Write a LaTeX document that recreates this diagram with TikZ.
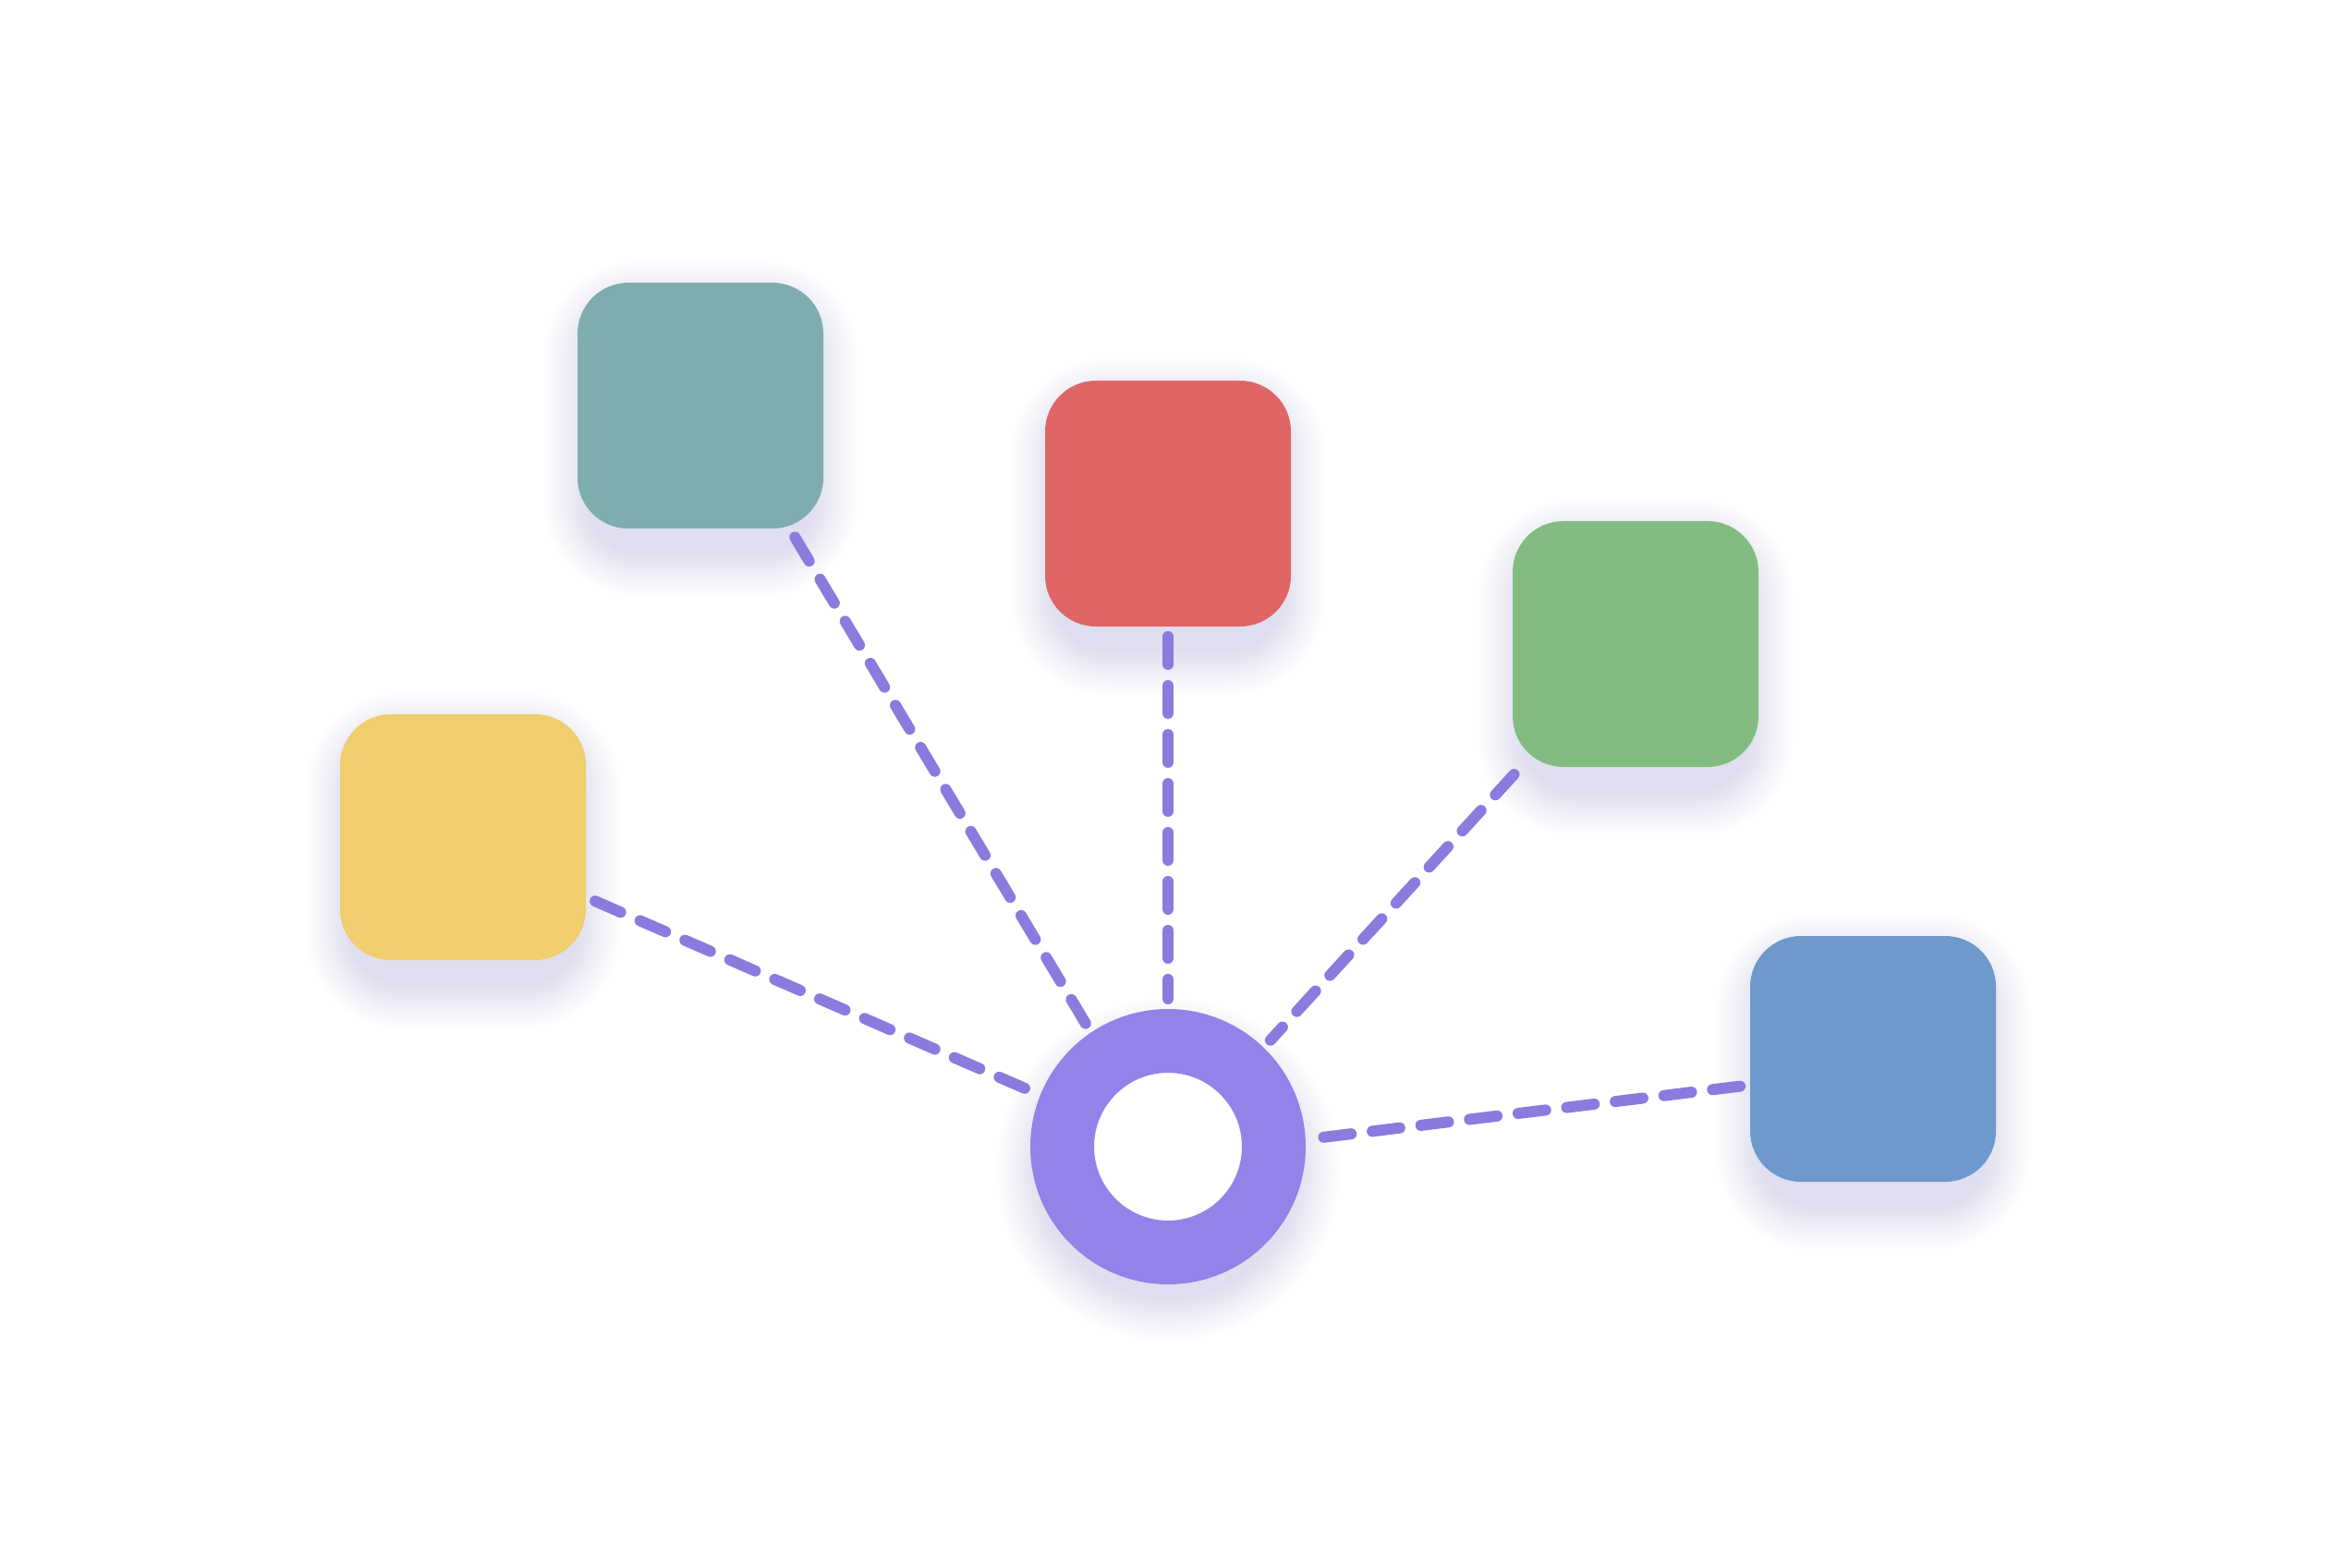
\documentclass[tikz,border=0pt]{standalone}
\usetikzlibrary{calc,backgrounds}

\definecolor{tealbox}{HTML}{7FADAD}
\definecolor{redbox}{HTML}{E06666}
\definecolor{greenbox}{HTML}{83BC81}
\definecolor{yellowbox}{HTML}{F0CD6D}
\definecolor{bluebox}{HTML}{6D99CD}
\definecolor{hubring}{HTML}{9283E8}
\definecolor{linkdash}{HTML}{8A7BDF}
\definecolor{glow}{HTML}{9A8AE0}

\tikzset{
  box/.style={rectangle, rounded corners=0.55cm, minimum size=2.66cm, inner sep=0pt, outer sep=0pt},
  hub/.style={circle, draw=hubring, line width=0.69cm, fill=white, minimum size=2.29cm, inner sep=0pt},
  link/.style={draw=linkdash, line width=0.12cm, line cap=round, dash pattern=on 0.30cm off 0.23cm,
    shorten <=0.11cm, shorten >=0.11cm}
}

% soft lavender shadow under a box
\newcommand{\boxglow}[1]{%
  \foreach \g [evaluate=\g as \rc using 0.55+\g] in {0.03,0.06,...,0.5}{%
    \fill[glow, opacity=0.016, rounded corners=\rc cm]
      ($(#1.south west)+(-\g+0.12,-\g-0.25)$) rectangle ($(#1.north east)+(\g-0.12,\g-0.25)$);
  }}

\begin{document}
\begin{tikzpicture}
        \useasboundingbox (0,0) rectangle (25.28,16.96);

        \node[box, fill=tealbox] at (7.58, 12.57)(teal){};
        \node[box, fill=redbox] at (12.64, 11.51)(red){};
        \node[box, fill=greenbox] at (17.70, 9.99)(green){};
        \node[box, fill=yellowbox] at (5.01, 7.90)(yellow){};
        \node[box, fill=bluebox] at (20.27, 5.50)(blue){};
        \node[hub] at (12.64, 4.55)(center){};

        \begin{scope}[on background layer]
        \fill[white] (0,0) rectangle (25.28,16.96);
        \boxglow{teal}
        \boxglow{red}
        \boxglow{green}
        \boxglow{yellow}
        \boxglow{blue}
        \foreach \g in {0.03,0.06,...,0.5}
            \fill[glow, opacity=0.016] ($(center)+(0,-0.25)$) circle ({1.37+\g});
        \end{scope}

        \path[link]
        (teal.-54.4)edge(center.124)
        (red.south)edge(center.north)
        (green.227.6)edge(center.46)
        (yellow.-26.9)edge(center.158.5)
        (blue.192.7)edge(center.3.3)
        ;
    \end{tikzpicture}
\end{document}
